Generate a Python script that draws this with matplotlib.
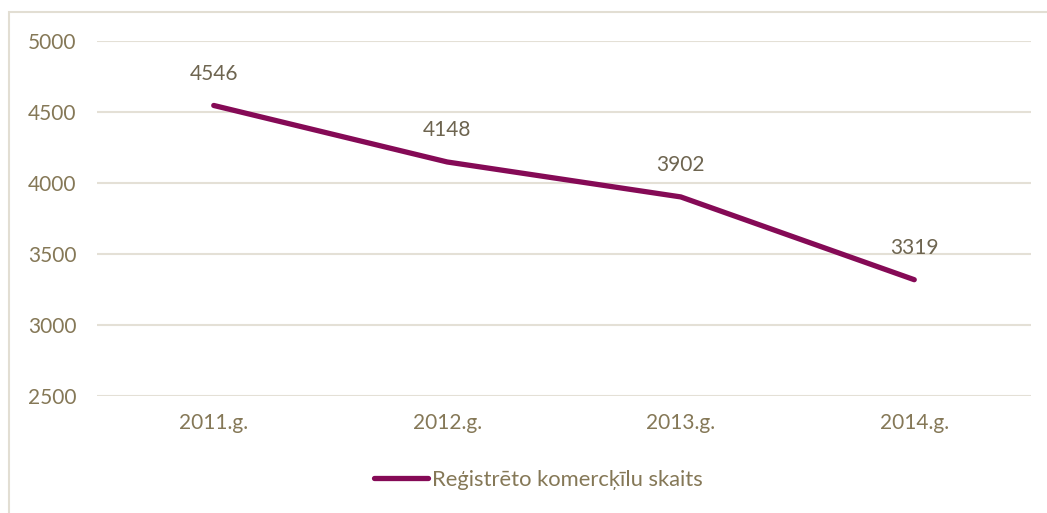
import matplotlib.pyplot as plt
from matplotlib.patches import Rectangle

years = ["2011.g.", "2012.g.", "2013.g.", "2014.g."]
counts = [4546, 4148, 3902, 3319]
series_name = "Reģistrēto komercķīlu skaits"

txt = "#857857"
lc = "#850A56"
grid = "#E4E0D6"

plt.rcParams['font.family'] = ['Lato', 'DejaVu Sans']

fig = plt.figure(figsize=(10.47, 5.13), dpi=100)
W, H = 1047, 513
ax = fig.add_axes([97 / W, 1 - 396 / H, (1031 - 97) / W, (396 - 41) / H])

x = list(range(len(years)))
ax.plot(x, counts, color=lc, lw=3.8, solid_capstyle='round', label=series_name)
for xi, v in zip(x, counts):
    ax.annotate(str(v), (xi, v), xytext=(0, 23), textcoords='offset points',
                ha='center', va='center', color="#6E6550", fontsize=15)

ax.set_xlim(-0.5, 3.5)
ax.set_ylim(2500, 5000)
ax.set_yticks(range(2500, 5001, 500))
ax.set_xticks(x)
ax.set_xticklabels(years)
ax.grid(axis='y', color=grid, lw=1.5)
ax.set_axisbelow(True)
for s in ax.spines.values():
    s.set_visible(False)
ax.tick_params(length=0, colors=txt, labelsize=15)
ax.tick_params(axis='y', pad=15)
ax.tick_params(axis='x', pad=12)

leg = fig.legend(loc='center', bbox_to_anchor=(538 / W, 1 - 480 / H), frameon=False,
                 fontsize=15.8, handlelength=2.5, handletextpad=0.15)
for t in leg.get_texts():
    t.set_color(txt)

fig.patches.append(Rectangle((9 / W, -0.1), 1.2, 1 - 12 / H + 0.1, transform=fig.transFigure,
                             fill=False, edgecolor="#E2DED3", lw=1.5))

fig.savefig("out.png", dpi=100)
